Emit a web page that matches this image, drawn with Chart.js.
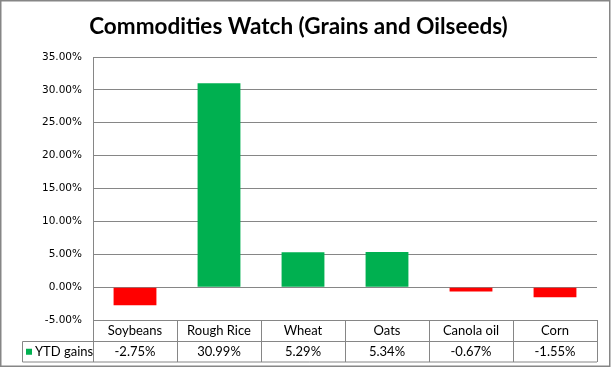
<!DOCTYPE html>
<html><head><meta charset="utf-8">
<script src="https://cdn.jsdelivr.net/npm/chart.js@4"></script>
<style>html,body{margin:0;padding:0;background:#fff}#wrap{width:612px;height:368px}</style>
</head><body><div id="wrap"><canvas id="c" width="612" height="368"></canvas></div>
<script>
const categories = ['Soybeans', 'Rough Rice', 'Wheat', 'Oats', 'Canola oil', 'Corn'];
const ytdGains = [-2.75, 30.99, 5.29, 5.34, -0.67, -1.55];
const seriesName = 'YTD gains';
const titleText = 'Commodities Watch (Grains and Oilseeds)';
const yMin = -5, yMax = 35, yStep = 5;

const GREEN = '#00B050', RED = '#FF0000', LINE = '#868686';
const TABLE_FONT = '13px Lato';
const fmt = v => v.toFixed(2) + '%';

const tablePlugin = {
  id: 'dataTable',
  afterDraw(chart) {
    const ctx = chart.ctx, ca = chart.chartArea, xs = chart.scales.x;
    const n = categories.length;
    const top = ca.bottom, mid = top + 21.5, bot = top + 42;
    const legendLeft = 22.5;
    ctx.save();
    ctx.strokeStyle = LINE; ctx.lineWidth = 1;
    ctx.beginPath();
    for (let i = 0; i <= n; i++) {
      const px = Math.round(xs.getPixelForValue(i - 0.5)) + 0.5;
      ctx.moveTo(px, top); ctx.lineTo(px, bot);
    }
    ctx.moveTo(legendLeft, mid); ctx.lineTo(ca.right, mid);
    ctx.moveTo(legendLeft, bot); ctx.lineTo(ca.right, bot);
    ctx.moveTo(legendLeft, mid); ctx.lineTo(legendLeft, bot);
    ctx.stroke();
    // data row
    ctx.fillStyle = '#000'; ctx.font = TABLE_FONT;
    ctx.textAlign = 'center'; ctx.textBaseline = 'middle';
    const ds = chart.data.datasets[0];
    ds.data.forEach((v, i) => ctx.fillText(fmt(v), xs.getPixelForValue(i), (mid + bot) / 2 + 0.5));
    // legend key
    ctx.fillStyle = GREEN;
    ctx.fillRect(26, (mid + bot) / 2 - 3, 6, 6);
    ctx.fillStyle = '#000'; ctx.textAlign = 'left';
    ctx.fillText(ds.label, 35, (mid + bot) / 2 + 0.5);
    // outer border
    ctx.strokeStyle = LINE; ctx.lineWidth = 1.5;
    ctx.strokeRect(0.75, 0.75, 609, 365.5);
    ctx.restore();
  }
};

new Chart(document.getElementById('c'), {
  type: 'bar',
  data: {
    labels: categories,
    datasets: [{
      label: seriesName,
      data: ytdGains,
      backgroundColor: ytdGains.map(v => v < 0 ? RED : GREEN),
      barPercentage: 0.51,
      categoryPercentage: 1.0
    }]
  },
  options: {
    responsive: false,
    animation: false,
    devicePixelRatio: 1,
    layout: { padding: { left: 0, right: 15, top: 0, bottom: 0 } },
    plugins: {
      legend: { display: false },
      tooltip: { enabled: false },
      title: {
        display: true, text: titleText, color: '#000',
        font: { family: 'Lato', size: 22.5, weight: 'bold', lineHeight: 1.2 },
        padding: { top: 13, bottom: 17 }
      }
    },
    scales: {
      y: {
        min: yMin, max: yMax,
        ticks: {
          stepSize: yStep, color: '#000', padding: 11,
          font: { family: 'DejaVu Sans', size: 10.5 },
          callback: v => fmt(v)
        },
        grid: { color: LINE, drawTicks: false, lineWidth: 1 },
        border: { color: LINE },
        afterFit(s) { s.width = 93; }
      },
      x: {
        grid: { display: false, drawTicks: false },
        border: { display: false },
        ticks: { color: '#000', padding: 3, font: { family: 'Lato', size: 13 } },
        afterFit(s) { s.height = 48; }
      }
    }
  },
  plugins: [tablePlugin]
});
</script>
</body></html>
